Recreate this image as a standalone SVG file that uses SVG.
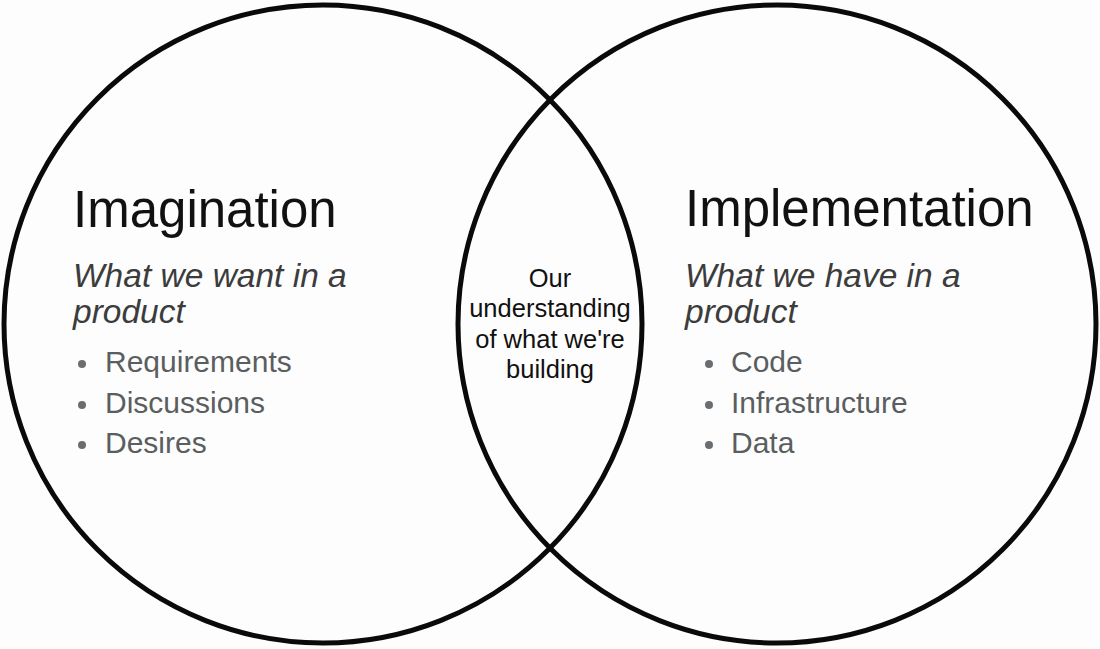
<svg xmlns="http://www.w3.org/2000/svg" width="1100" height="649" viewBox="0 0 1100 649">
<style>
.ring{fill:none;stroke:#0a0a0a;stroke-width:5}
.title{font-family:"Liberation Sans",Arial,sans-serif;font-size:51px;fill:#111}
.sub{font-family:"Liberation Sans",Arial,sans-serif;font-size:33.5px;font-style:italic;fill:#3c3c3c}
.item{font-family:"Liberation Sans",Arial,sans-serif;font-size:30px;fill:#5a5e60}
.mid{font-family:"Liberation Sans",Arial,sans-serif;font-size:25.5px;fill:#111;text-anchor:middle}
.dot{fill:#6a6e70}
</style>
<rect width="1100" height="649" fill="#fdfdfd"/>
<g id="connectors"></g>
<g id="imagination">
<circle class="ring" cx="323" cy="324" r="319"/>
<text class="title" x="73" y="227">Imagination</text>
<text class="sub" x="73" y="287">What we want in a</text>
<text class="sub" x="73" y="323">product</text>
<circle class="dot" cx="82" cy="364" r="4"/>
<text class="item" x="105" y="372">Requirements</text>
<circle class="dot" cx="82" cy="405" r="4"/>
<text class="item" x="105" y="413">Discussions</text>
<circle class="dot" cx="82" cy="445" r="4"/>
<text class="item" x="105" y="453">Desires</text>
</g>
<g id="implementation">
<circle class="ring" cx="777" cy="324" r="319"/>
<text class="title" x="685" y="226">Implementation</text>
<text class="sub" x="685" y="287">What we have in a</text>
<text class="sub" x="685" y="323">product</text>
<circle class="dot" cx="709" cy="364" r="4"/>
<text class="item" x="731" y="372">Code</text>
<circle class="dot" cx="709" cy="405" r="4"/>
<text class="item" x="731" y="413">Infrastructure</text>
<circle class="dot" cx="709" cy="445" r="4"/>
<text class="item" x="731" y="453">Data</text>
</g>
<g id="overlap">
<text class="mid" x="550" y="287">Our</text>
<text class="mid" x="550" y="317">understanding</text>
<text class="mid" x="550" y="348">of what we're</text>
<text class="mid" x="550" y="378">building</text>
</g>
</svg>
